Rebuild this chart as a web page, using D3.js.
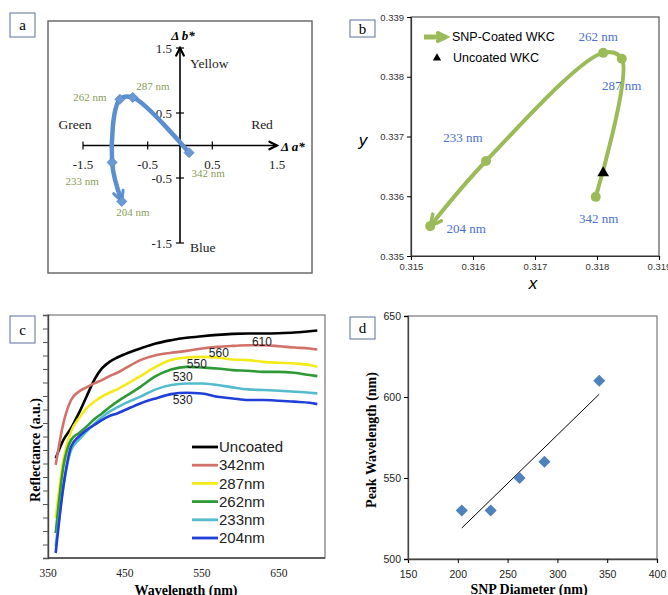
<html>
<head>
<script src="https://cdn.jsdelivr.net/npm/d3@7"></script>
<style>
  body { margin: 0; background: #fff; }
  .serif { font-family: "Liberation Serif", "DejaVu Serif", serif; }
  .sans { font-family: "Liberation Sans", Arial, sans-serif; }
</style>
</head>
<body>
<svg id="fig" width="668" height="595"></svg>
<script>
// ---- panel a : CIELab shift ----
var aNames = ["342 nm", "287 nm", "262 nm", "233 nm", "204 nm"];
var aDa = [0.14, -0.73, -0.93, -1.05, -0.90];
var aDb = [-0.11, 0.74, 0.71, -0.26, -0.86];
var aTicks = [-1.5, -0.5, 0.5, 1.5];

// ---- panel b : chromaticity ----
var bNames = ["342 nm", "287 nm", "262 nm", "233 nm", "204 nm"];
var bX = [0.31798, 0.31840, 0.31810, 0.31621, 0.31531];
var bY = [0.33599, 0.33830, 0.33840, 0.33659, 0.33550];
var uncoated = [0.3181, 0.33639];
var bTicks = [0.315, 0.316, 0.317, 0.318, 0.319];

// ---- panel c : reflectance spectra ----
var wl = [360, 370, 380, 390, 400, 410, 420, 430, 440, 450, 470, 490, 510, 530, 550, 570, 590, 610, 630, 650, 670, 690, 700];
var rUncoated = [7.39, 8.74, 9.61, 10.71, 11.95, 13.18, 14.04, 14.53, 14.85, 15.10, 15.52, 15.89, 16.13, 16.31, 16.43, 16.53, 16.60, 16.63, 16.63, 16.65, 16.70, 16.80, 16.85];
var r342 = [6.90, 9.98, 11.70, 12.32, 12.64, 12.93, 13.18, 13.47, 13.72, 14.04, 14.66, 15.02, 15.20, 15.34, 15.52, 15.64, 15.71, 15.76, 15.76, 15.69, 15.59, 15.52, 15.44];
var r287 = [2.96, 7.27, 9.36, 10.34, 11.08, 11.58, 11.95, 12.24, 12.49, 12.81, 13.47, 14.16, 14.66, 14.85, 14.90, 14.85, 14.70, 14.66, 14.53, 14.46, 14.41, 14.29, 14.16];
var r262 = [1.85, 6.77, 8.74, 9.24, 9.73, 10.27, 10.71, 11.16, 11.58, 11.95, 12.68, 13.47, 13.97, 14.16, 14.11, 14.04, 13.92, 13.87, 13.79, 13.79, 13.72, 13.55, 13.47];
var r233 = [0.86, 5.30, 8.00, 8.74, 9.36, 9.93, 10.42, 10.84, 11.16, 11.45, 11.95, 12.49, 12.81, 12.93, 12.93, 12.81, 12.64, 12.49, 12.44, 12.39, 12.32, 12.24, 12.19];
var r204 = [0.37, 5.30, 8.25, 8.99, 9.48, 9.85, 10.22, 10.52, 10.71, 10.96, 11.45, 11.82, 12.14, 12.24, 12.19, 11.95, 11.82, 11.70, 11.70, 11.65, 11.58, 11.50, 11.40];
var cSeries = ["Uncoated", "342nm", "287nm", "262nm", "233nm", "204nm"];
var cPeaks = ["610", "560", "550", "530", "530"];
var cTicks = [350, 450, 550, 650];

// ---- panel d : peak vs diameter ----
var dDiam = [204, 233, 262, 287, 342];
var dPeak = [530, 530, 550, 560, 610];
var dXTicks = [150, 200, 250, 300, 350, 400];
var dYTicks = [500, 550, 600, 650];

var svg = d3.select("#fig");
var defs = svg.append("defs");

function vArrow(id, color, size, sw) {
  defs.append("marker")
    .attr("id", id)
    .attr("viewBox", "0 0 " + size + " " + size)
    .attr("refX", size - sw).attr("refY", size / 2)
    .attr("markerWidth", size).attr("markerHeight", size)
    .attr("markerUnits", "userSpaceOnUse")
    .attr("orient", "auto")
    .append("path")
    .attr("d", "M" + sw + "," + sw + " L" + (size - sw) + "," + size / 2 + " L" + sw + "," + (size - sw))
    .attr("fill", "none").attr("stroke", color)
    .attr("stroke-width", sw).attr("stroke-linejoin", "miter").attr("stroke-linecap", "round");
}
vArrow("arrA", "#5b8fcf", 16, 3);
vArrow("arrB", "#9bbb59", 18, 3.5);
vArrow("arrAx", "#000", 12, 2.2);
vArrow("arrLeg", "#9bbb59", 16, 4);

function letterBox(x, y, w, h, t) {
  svg.append("rect").attr("x", x).attr("y", y).attr("width", w).attr("height", h)
    .attr("fill", "#fff").attr("stroke", "#5a6f9a").attr("stroke-width", 1);
  svg.append("text").attr("class", "serif").attr("x", x + w / 2).attr("y", y + h / 2)
    .attr("dy", "0.35em").attr("text-anchor", "middle").attr("font-size", 15).text(t);
}
var diamond = function (r) { return "M0," + (-r) + "L" + r + ",0L0," + r + "L" + (-r) + ",0Z"; };

// ================= panel a =================
var ga = svg.append("g");
ga.append("rect").attr("x", 48).attr("y", 21).attr("width", 264).attr("height", 252)
  .attr("fill", "none").attr("stroke", "#6b6b6b").attr("stroke-width", 1.5);
letterBox(10, 13, 25, 24, "a");

var xa = d3.scaleLinear().domain([-1.5, 1.5]).range([83, 277]);
var ya = d3.scaleLinear().domain([-1.5, 1.5]).range([243, 48]);

ga.append("line").attr("x1", xa(-1.5)).attr("x2", xa(1.5)).attr("y1", ya(0)).attr("y2", ya(0))
  .attr("stroke", "#000").attr("stroke-width", 1.6).attr("marker-end", "url(#arrAx)");
ga.append("line").attr("x1", xa(0)).attr("x2", xa(0)).attr("y1", ya(-1.5)).attr("y2", ya(1.5))
  .attr("stroke", "#000").attr("stroke-width", 1.6).attr("marker-end", "url(#arrAx)");
aTicks.filter(function (t) { return t < 1.5; }).forEach(function (t) {
  ga.append("line").attr("x1", xa(t)).attr("x2", xa(t)).attr("y1", ya(0) - 4).attr("y2", ya(0) + 4).attr("stroke", "#000").attr("stroke-width", 1.2);
});
aTicks.forEach(function (t) {
  ga.append("line").attr("x1", xa(0) - 4).attr("x2", xa(0) + 4).attr("y1", ya(t)).attr("y2", ya(t)).attr("stroke", "#000").attr("stroke-width", 1.2);
});
ga.selectAll(".xt").data(aTicks).enter().append("text").attr("class", "serif")
  .attr("x", function (d) { return xa(d); }).attr("y", ya(0) + 23)
  .attr("text-anchor", "middle").attr("font-size", 13).attr("fill", "#222")
  .text(function (d) { return d; });
ga.selectAll(".yt").data(aTicks).enter().append("text").attr("class", "serif")
  .attr("x", xa(0) - 8).attr("y", function (d) { return ya(d); }).attr("dy", "0.35em")
  .attr("text-anchor", "end").attr("font-size", 13).attr("fill", "#222")
  .text(function (d) { return d; });

var aWords = [["Yellow", 190, 63, "start"], ["Red", 262, 124, "middle"], ["Green", 75, 124, "middle"], ["Blue", 190, 247, "start"]];
aWords.forEach(function (w) {
  ga.append("text").attr("class", "serif").attr("x", w[1]).attr("y", w[2]).attr("dy", "0.35em")
    .attr("text-anchor", w[3]).attr("font-size", 13.5).attr("fill", "#222").text(w[0]);
});
ga.append("text").attr("class", "serif").attr("x", 183).attr("y", 35).attr("dy", "0.35em")
  .attr("text-anchor", "middle").attr("font-size", 13).attr("font-weight", "bold").attr("font-style", "italic").text("\u0394 b*");
ga.append("text").attr("class", "serif").attr("x", 281).attr("y", 146).attr("dy", "0.35em")
  .attr("font-size", 13).attr("font-weight", "bold").attr("font-style", "italic").text("\u0394 a*");

var aPts = aDa.map(function (d, i) { return [xa(d), ya(aDb[i])]; });
ga.append("path").attr("d", d3.line().curve(d3.curveCatmullRom.alpha(0.5))(aPts))
  .attr("fill", "none").attr("stroke", "#5b8fcf").attr("stroke-width", 4.5)
  .attr("marker-end", "url(#arrA)");
ga.selectAll(".ad").data(aPts).enter().append("path")
  .attr("transform", function (p) { return "translate(" + p[0] + "," + p[1] + ")"; })
  .attr("d", diamond(5)).attr("fill", "#6a9ad6").attr("stroke", "#4f81bd").attr("stroke-width", 0.8);
var aOff = [[19, 20], [20, -11], [-30, -2], [-30, 19], [11, 11]];
ga.selectAll(".al").data(aNames).enter().append("text").attr("class", "serif")
  .attr("x", function (d, i) { return aPts[i][0] + aOff[i][0]; })
  .attr("y", function (d, i) { return aPts[i][1] + aOff[i][1]; })
  .attr("dy", "0.35em").attr("text-anchor", "middle").attr("font-size", 11).attr("fill", "#8a9c57")
  .text(function (d) { return d; });

// ================= panel b =================
var gb = svg.append("g");
var xb = d3.scaleLinear().domain([0.315, 0.319]).range([411, 659]);
var yb = d3.scaleLinear().domain([0.335, 0.339]).range([256, 17]);
gb.append("rect").attr("x", xb(0.315)).attr("y", yb(0.339)).attr("width", xb(0.319) - xb(0.315)).attr("height", yb(0.335) - yb(0.339))
  .attr("fill", "none").attr("stroke", "#555").attr("stroke-width", 1.2);
gb.append("g").attr("transform", "translate(0," + yb(0.335) + ")")
  .call(d3.axisBottom(xb).tickValues(bTicks).tickFormat(d3.format(".3f")).tickSizeOuter(0).tickSize(4))
  .call(function (g) { g.selectAll("text").attr("class", "sans").attr("font-size", 9.5).attr("fill", "#333"); });
gb.append("g").attr("transform", "translate(" + xb(0.315) + ",0)")
  .call(d3.axisLeft(yb).ticks(4).tickFormat(d3.format(".3f")).tickSizeOuter(0).tickSize(4))
  .call(function (g) { g.selectAll("text").attr("class", "sans").attr("font-size", 9.5).attr("fill", "#333"); });
gb.selectAll(".domain").attr("stroke", "#333").attr("stroke-width", 1.2);
letterBox(350, 20, 25, 17, "b");

gb.append("text").attr("class", "sans").attr("x", 363).attr("y", 140).attr("dy", "0.35em")
  .attr("text-anchor", "middle").attr("font-size", 17).attr("font-style", "italic").text("y");
gb.append("text").attr("class", "sans").attr("x", 533).attr("y", 283).attr("dy", "0.35em")
  .attr("text-anchor", "middle").attr("font-size", 17).attr("font-style", "italic").text("x");

var bPts = bX.map(function (d, i) { return [xb(d), yb(bY[i])]; });
gb.append("path").attr("d", d3.line().curve(d3.curveCatmullRom.alpha(0.5))(bPts))
  .attr("fill", "none").attr("stroke", "#9bbb59").attr("stroke-width", 4)
  .attr("marker-end", "url(#arrB)");
gb.selectAll(".bc").data(bPts).enter().append("circle")
  .attr("cx", function (p) { return p[0]; }).attr("cy", function (p) { return p[1]; })
  .attr("r", 5).attr("fill", "#9bbb59");
gb.append("path").attr("transform", "translate(" + xb(uncoated[0]) + "," + yb(uncoated[1]) + ")")
  .attr("d", d3.symbol(d3.symbolTriangle, 60)()).attr("fill", "#000");
var bOff = [[3, 22], [0, 27], [-5, -16], [-23, -24], [36, 2]];
gb.selectAll(".bl").data(bNames).enter().append("text").attr("class", "serif")
  .attr("x", function (d, i) { return bPts[i][0] + bOff[i][0]; })
  .attr("y", function (d, i) { return bPts[i][1] + bOff[i][1]; })
  .attr("dy", "0.35em").attr("text-anchor", "middle").attr("font-size", 13).attr("fill", "#4a70d0")
  .text(function (d) { return d; });
// legend
gb.append("line").attr("x1", 424).attr("x2", 446).attr("y1", 37).attr("y2", 37)
  .attr("stroke", "#9bbb59").attr("stroke-width", 5).attr("marker-end", "url(#arrLeg)");
gb.append("text").attr("class", "sans").attr("x", 452).attr("y", 37).attr("dy", "0.35em").attr("font-size", 12.5).text("SNP-Coated WKC");
gb.append("path").attr("transform", "translate(437,58)").attr("d", d3.symbol(d3.symbolTriangle, 30)()).attr("fill", "#000");
gb.append("text").attr("class", "sans").attr("x", 453).attr("y", 58).attr("dy", "0.35em").attr("font-size", 12.5).text("Uncoated WKC");

// ================= panel c =================
var gc = svg.append("g");
var xc = d3.scaleLinear().domain([350, 710]).range([48, 325]);
var yc = d3.scaleLinear().domain([0, 18]).range([558, 315]);
gc.append("rect").attr("x", xc(350)).attr("y", yc(18)).attr("width", xc(710) - xc(350)).attr("height", yc(0) - yc(18))
  .attr("fill", "none").attr("stroke", "#777").attr("stroke-width", 1.2);
gc.append("g").attr("transform", "translate(" + xc(350) + ",0)")
  .call(d3.axisLeft(yc).ticks(18).tickFormat("").tickSizeOuter(0).tickSize(5))
  .call(function (g) { g.selectAll("line").attr("stroke", "#555"); g.select(".domain").attr("stroke", "#444").attr("stroke-width", 1.4); });
gc.append("line").attr("x1", xc(350)).attr("x2", xc(710)).attr("y1", yc(0)).attr("y2", yc(0)).attr("stroke", "#444").attr("stroke-width", 1.4);
gc.selectAll(".ct").data(cTicks).enter().append("text").attr("class", "serif")
  .attr("x", function (d) { return xc(d); }).attr("y", 573).attr("dy", "0.35em")
  .attr("text-anchor", "middle").attr("font-size", 11.5).attr("fill", "#222").text(function (d) { return d; });
letterBox(10, 316, 25, 27, "c");
gc.append("text").attr("class", "serif").attr("x", 186).attr("y", 590).attr("dy", "0.35em")
  .attr("text-anchor", "middle").attr("font-size", 14).attr("font-weight", "bold").text("Wavelength (nm)");
gc.append("text").attr("class", "serif").attr("transform", "translate(35,450) rotate(-90)")
  .attr("dy", "0.35em").attr("text-anchor", "middle").attr("font-size", 14).attr("font-weight", "bold").text("Reflectance (a.u.)");

var cData = [rUncoated, r342, r287, r262, r233, r204];
var cColors = ["#000000", "#d2706a", "#f4ea1a", "#2e9a35", "#54bccd", "#1f3fd8"];
var cLine = d3.line().curve(d3.curveMonotoneX)
  .x(function (d, i) { return xc(wl[i]); }).y(function (d) { return yc(d); });
cData.forEach(function (s, k) {
  gc.append("path").attr("d", cLine(s)).attr("fill", "none").attr("stroke", cColors[k]).attr("stroke-width", 2.6);
});
var cPeakPos = [[628, 16.0], [572, 15.19], [543.5, 14.37], [525, 13.4], [525, 11.7]];
gc.selectAll(".cp").data(cPeaks).enter().append("text").attr("class", "sans")
  .attr("x", function (d, i) { return xc(cPeakPos[i][0]); })
  .attr("y", function (d, i) { return yc(cPeakPos[i][1]); })
  .attr("dy", "0.35em").attr("text-anchor", "middle").attr("font-size", 12).attr("fill", "#222")
  .text(function (d) { return d; });
cSeries.forEach(function (name, k) {
  var y = 447 + k * 18.2;
  gc.append("line").attr("x1", 192).attr("x2", 218).attr("y1", y).attr("y2", y).attr("stroke", cColors[k]).attr("stroke-width", 2.8);
  gc.append("text").attr("class", "sans").attr("x", 219).attr("y", y).attr("dy", "0.35em")
    .attr("font-size", 15).attr("fill", "#222").text(name);
});

// ================= panel d =================
var gd = svg.append("g");
var xd = d3.scaleLinear().domain([150, 400]).range([408, 657]);
var yd = d3.scaleLinear().domain([500, 650]).range([559, 316]);
gd.append("rect").attr("x", xd(150)).attr("y", yd(650)).attr("width", xd(400) - xd(150)).attr("height", yd(500) - yd(650))
  .attr("fill", "none").attr("stroke", "#777").attr("stroke-width", 1.2);
gd.append("g").attr("transform", "translate(0," + yd(500) + ")")
  .call(d3.axisBottom(xd).tickValues(dXTicks).tickSizeOuter(0).tickSize(4))
  .call(function (g) { g.selectAll("text").attr("class", "sans").attr("font-size", 10.5).attr("fill", "#222").attr("dy", "1.1em"); });
gd.append("g").attr("transform", "translate(" + xd(150) + ",0)")
  .call(d3.axisLeft(yd).tickValues(dYTicks).tickSizeOuter(0).tickSize(4))
  .call(function (g) { g.selectAll("text").attr("class", "sans").attr("font-size", 10.5).attr("fill", "#222"); });
gd.selectAll(".domain").attr("stroke", "#444").attr("stroke-width", 1.3);
letterBox(350, 317, 25, 22, "d");
gd.append("text").attr("class", "serif").attr("x", 529).attr("y", 589).attr("dy", "0.35em")
  .attr("text-anchor", "middle").attr("font-size", 14).attr("font-weight", "bold").text("SNP Diameter (nm)");
gd.append("text").attr("class", "serif").attr("transform", "translate(371,440) rotate(-90)")
  .attr("dy", "0.35em").attr("text-anchor", "middle").attr("font-size", 14).attr("font-weight", "bold").text("Peak Wavelength (nm)");

// linear trend line from the points
var mx = d3.mean(dDiam), my = d3.mean(dPeak);
var slope = d3.sum(dDiam, function (d, i) { return (d - mx) * (dPeak[i] - my); }) / d3.sum(dDiam, function (d) { return (d - mx) * (d - mx); });
var x0 = d3.min(dDiam), x1 = d3.max(dDiam);
gd.append("line").attr("x1", xd(x0)).attr("y1", yd(my + slope * (x0 - mx)))
  .attr("x2", xd(x1)).attr("y2", yd(my + slope * (x1 - mx))).attr("stroke", "#000").attr("stroke-width", 1);
gd.selectAll(".dd").data(dDiam).enter().append("path")
  .attr("transform", function (d, i) { return "translate(" + xd(d) + "," + yd(dPeak[i]) + ")"; })
  .attr("d", diamond(6)).attr("fill", "#4f81bd");
</script>
</body>
</html>
